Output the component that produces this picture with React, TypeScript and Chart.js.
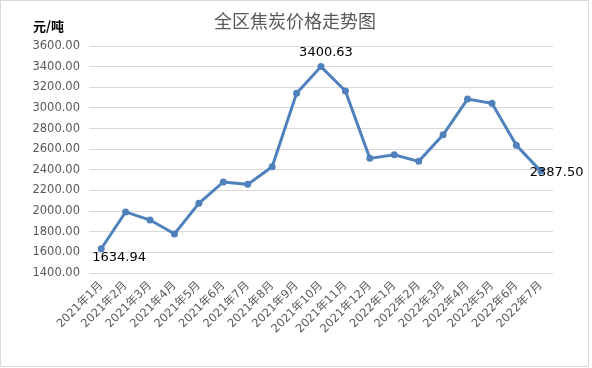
import React, { useEffect, useRef } from "react";
import { Chart, registerables } from "chart.js";

Chart.register(...registerables);

const categories = [
  "2021年1月", "2021年2月", "2021年3月", "2021年4月", "2021年5月", "2021年6月",
  "2021年7月", "2021年8月", "2021年9月", "2021年10月", "2021年11月", "2021年12月",
  "2022年1月", "2022年2月", "2022年3月", "2022年4月", "2022年5月", "2022年6月", "2022年7月",
];
const prices = [
  1634.94, 1992, 1913, 1779, 2075, 2282, 2259, 2430, 3141, 3400.63, 3164, 2511,
  2546, 2482, 2740, 3086, 3044, 2637, 2387.5,
];
const labeledIndices = [0, 9, 18];
const yMin = 1400;
const yMax = 3600;
const yStep = 200;
const titleText = "全区焦炭价格走势图";
const unitText = "元/吨";

const W = 592;
const H = 368;

const decorPlugin = {
  id: "decor",
  beforeDraw(chart: any) {
    const ctx = chart.ctx;
    ctx.save();
    ctx.fillStyle = "#ffffff";
    ctx.fillRect(0, 0, W, H);
    ctx.restore();
  },
  afterDraw(chart: any) {
    const ctx = chart.ctx;
    ctx.save();
    ctx.strokeStyle = "#d9d9d9";
    ctx.lineWidth = 1;
    ctx.strokeRect(0.5, 0.5, 588, 366);
    ctx.fillStyle = "#595959";
    ctx.font = '18px "Noto Sans CJK SC", "DejaVu Sans", sans-serif';
    ctx.textAlign = "center";
    ctx.textBaseline = "middle";
    ctx.fillText(titleText, 295, 21);
    ctx.fillStyle = "#000000";
    ctx.font = 'bold 13px "Noto Sans CJK SC", "DejaVu Sans", sans-serif';
    ctx.textAlign = "left";
    ctx.fillText(unitText, 33, 26);
    const meta = chart.getDatasetMeta(0);
    ctx.font = '13px "DejaVu Sans", sans-serif';
    ctx.fillStyle = "#000000";
    labeledIndices.forEach((i) => {
      const el = meta.data[i];
      if (!el) return;
      const txt = prices[i].toFixed(2);
      if (i === 0) {
        ctx.textAlign = "left";
        ctx.textBaseline = "middle";
        ctx.fillText(txt, el.x - 9, el.y + 9);
      } else if (i === prices.length - 1) {
        ctx.textAlign = "left";
        ctx.textBaseline = "middle";
        ctx.fillText(txt, el.x - 11, el.y + 2);
      } else {
        ctx.textAlign = "center";
        ctx.textBaseline = "middle";
        ctx.fillText(txt, el.x + 5, el.y - 14);
      }
    });
    ctx.restore();
  },
};

export default function App() {
  const ref = useRef<HTMLCanvasElement>(null);
  useEffect(() => {
    if (!ref.current) return;
    const chart = new Chart(ref.current, {
      type: "line",
      data: {
        labels: categories,
        datasets: [
          {
            data: prices,
            borderColor: "#4f81bd",
            backgroundColor: "#4f81bd",
            borderWidth: 3,
            pointRadius: 3.5,
            pointHoverRadius: 3.5,
            pointBorderWidth: 0,
            pointBackgroundColor: "#4f81bd",
            pointBorderColor: "#4f81bd",
            tension: 0,
          },
        ],
      },
      options: {
        responsive: false,
        animation: false,
        devicePixelRatio: 1,
        layout: { padding: { top: 46, right: 39, left: 0, bottom: 0 } },
        plugins: {
          legend: { display: false },
          tooltip: { enabled: false },
          title: { display: false },
        },
        scales: {
          x: {
            offset: true,
            grid: { display: false, drawTicks: false },
            border: { display: false },
            ticks: {
              minRotation: 45,
              maxRotation: 45,
              autoSkip: false,
              padding: 6,
              color: "#595959",
              font: { size: 11.5, family: '"DejaVu Sans", "Noto Sans CJK SC", sans-serif' },
            },
            afterFit(scale: any) {
              scale.height = 95;
            },
          },
          y: {
            min: yMin,
            max: yMax,
            grid: { color: "#d9d9d9", lineWidth: 1, drawTicks: false },
            border: { display: false },
            ticks: {
              stepSize: yStep,
              padding: 9,
              color: "#595959",
              font: { size: 11.5, family: '"DejaVu Sans", sans-serif' },
              callback: (v: any) => Number(v).toFixed(2),
            },
            afterFit(scale: any) {
              scale.width = 89;
            },
          },
        },
      },
      plugins: [decorPlugin],
    });
    return () => chart.destroy();
  }, []);
  return (
    <div style={{ position: "absolute", left: 0, top: 0, width: W, height: H }}>
      <canvas ref={ref} width={W} height={H} style={{ width: W, height: H, display: "block" }} />
    </div>
  );
}
